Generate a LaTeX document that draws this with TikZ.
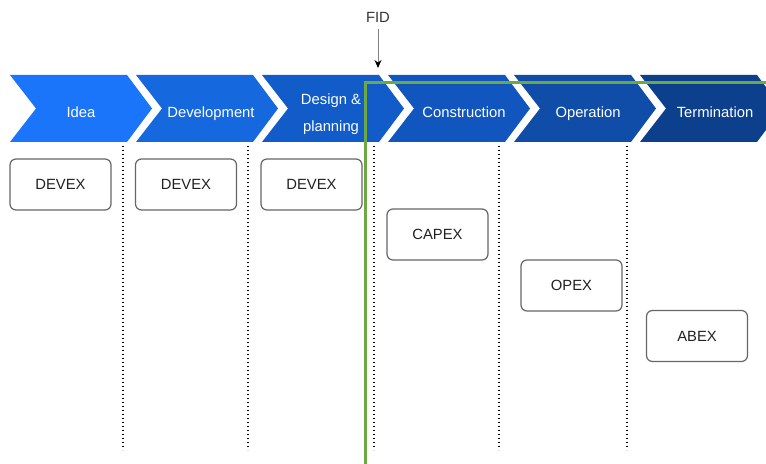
\documentclass[tikz,border=0pt]{standalone}
\usepackage{fontspec}
\setmainfont{Liberation Sans}
\usepackage{tikz}
\usetikzlibrary{arrows.meta}

\definecolor{phaseA}{RGB}{26,117,250}
\definecolor{phaseB}{RGB}{21,104,222}
\definecolor{phaseC}{RGB}{17,92,200}
\definecolor{phaseD}{RGB}{17,86,190}
\definecolor{phaseE}{RGB}{15,77,168}
\definecolor{phaseF}{RGB}{12,63,140}
\definecolor{fidgreen}{RGB}{108,168,70}

\begin{document}
\begin{tikzpicture}[x=.5pt,y=-.5pt,
    phaselabel/.style={text=white,font=\fontsize{7.4}{13.5}\selectfont,align=center,
      text height=5.4pt,text depth=1.6pt},
    costbox/.style={draw=black!60,line width=.6pt,rounded corners=3pt,fill=white,
      minimum width=50.5pt,minimum height=25.5pt,text=black!87,
      font=\fontsize{7.4}{9}\selectfont,text height=5.4pt,text depth=0pt},
    divider/.style={line width=.6pt,dash pattern=on .6pt off 1.4pt}]
  \useasboundingbox (0,0) rectangle (766,464);
  \clip (0,0) rectangle (766,464);
  % phase chevrons
  \foreach \x/\col in {10/phaseA,136/phaseB,262/phaseC,388/phaseD,514/phaseE,640/phaseF}
    \fill[\col] (\x,75) -- (\x+117,75) -- (\x+142,108.5) -- (\x+117,142)
      -- (\x,142) -- (\x+26,108.5) -- cycle;
  \node[phaselabel] (idea) at (81,114) {Idea};
  \node[phaselabel] (dev) at (211,114) {Development};
  \node[phaselabel,text height=,text depth=] (design) at (331,114) {Design \&\\planning};
  \node[phaselabel] (constr) at (464,114) {Construction};
  \node[phaselabel] (oper) at (588,114) {Operation};
  \node[phaselabel] (term) at (715,114) {Termination};
  % dotted dividers
  \draw[divider] (123,146) -- (123,450);
  \draw[divider] (248,146) -- (248,450);
  \draw[divider] (374,146) -- (374,450);
  \draw[divider] (499,146) -- (499,450);
  \draw[divider] (627,146) -- (627,450);
  % cost boxes
  \node[costbox] (devexA) at (60.5,184.5) {DEVEX};
  \node[costbox] (devexB) at (186,184.5) {DEVEX};
  \node[costbox] (devexC) at (311.5,184.5) {DEVEX};
  \node[costbox] (capex) at (437.5,234.5) {CAPEX};
  \node[costbox] (opex) at (571.5,285.5) {OPEX};
  \node[costbox] (abex) at (697,336) {ABEX};
  % FID marker
  \draw[fidgreen,line width=1.5pt] (365,83) rectangle (800,500);
  \node[text=black!80,font=\fontsize{7.4}{9}\selectfont] (fid) at (378,17) {FID};
  \coordinate (fidtip) at (378,68);
  \draw[black!50,line width=.5pt,-{Stealth[black,length=4pt,width=3.5pt]}] (fid.south) -- (fidtip);
\end{tikzpicture}
\end{document}
